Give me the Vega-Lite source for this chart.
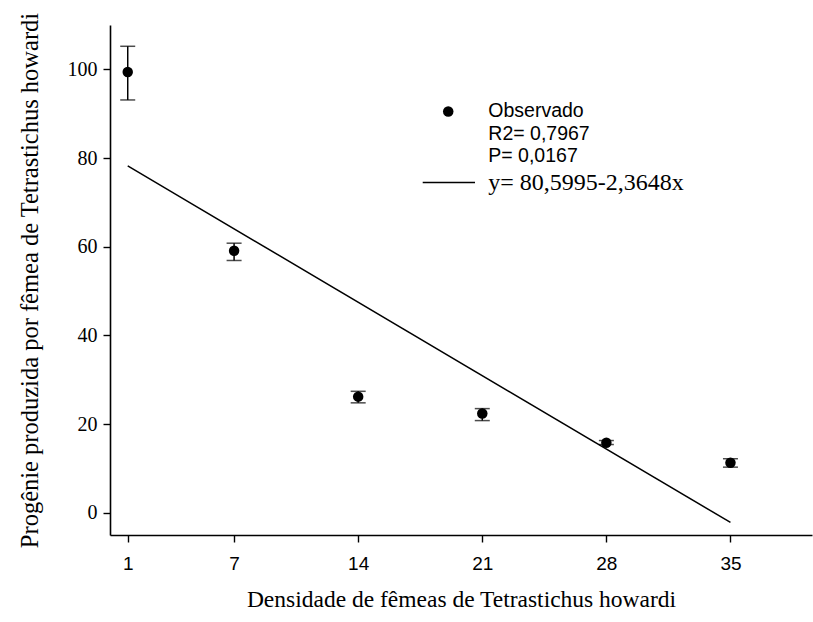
{
  "$schema": "https://vega.github.io/schema/vega-lite/v6.json",
  "autosize": "none",
  "width": 702,
  "height": 510,
  "padding": {"left": 110, "top": 25, "right": 1, "bottom": 87},
  "background": "white",
  "config": {
    "view": {"stroke": null},
    "axis": {"grid": false, "domainColor": "black", "domainWidth": 1.6, "tickColor": "black", "tickWidth": 1.4, "tickSize": 7, "labelColor": "black", "titleColor": "black", "titleFontWeight": "normal", "titleFont": "Liberation Serif", "titleFontSize": 23.5}
  },
  "data": {
    "values": [
      {"densidade": 1, "progenie": 99.4, "inferior": 93.1, "superior": 105.2},
      {"densidade": 7, "progenie": 59.1, "inferior": 56.9, "superior": 60.8},
      {"densidade": 14, "progenie": 26.2, "inferior": 24.8, "superior": 27.4},
      {"densidade": 21, "progenie": 22.4, "inferior": 20.8, "superior": 23.5},
      {"densidade": 28, "progenie": 15.8, "inferior": 15.4, "superior": 16.3},
      {"densidade": 35, "progenie": 11.3, "inferior": 10.3, "superior": 12.2}
    ]
  },
  "layer": [
    {
      "mark": {"type": "rule", "color": "black", "strokeWidth": 1.5},
      "encoding": {
        "x": {"field": "densidade", "type": "quantitative", "scale": {"domain": [0, 39.6], "nice": false, "zero": false},
          "axis": {"values": [1, 7, 14, 21, 28, 35], "labelFont": "Liberation Sans", "labelFontSize": 19, "labelPadding": 12, "titlePadding": 14, "title": "Densidade de fêmeas de Tetrastichus howardi"}},
        "y": {"field": "inferior", "type": "quantitative", "scale": {"domain": [-5, 110], "nice": false, "zero": false},
          "axis": {"values": [0, 20, 40, 60, 80, 100], "labelFont": "Liberation Serif", "labelFontSize": 20, "labelPadding": 6, "titlePadding": 25, "titleFontSize": 24.5, "title": "Progênie produzida por  fêmea de Tetrastichus howardi"}},
        "y2": {"field": "superior"}
      }
    },
    {
      "mark": {"type": "tick", "orient": "horizontal", "color": "black", "size": 15, "thickness": 1.5},
      "encoding": {
        "x": {"field": "densidade", "type": "quantitative"},
        "y": {"field": "inferior", "type": "quantitative"}
      }
    },
    {
      "mark": {"type": "tick", "orient": "horizontal", "color": "black", "size": 15, "thickness": 1.5},
      "encoding": {
        "x": {"field": "densidade", "type": "quantitative"},
        "y": {"field": "superior", "type": "quantitative"}
      }
    },
    {
      "mark": {"type": "point", "shape": "circle", "filled": true, "color": "black", "opacity": 1, "size": 110},
      "encoding": {
        "x": {"field": "densidade", "type": "quantitative"},
        "y": {"field": "progenie", "type": "quantitative"}
      }
    },
    {
      "data": {"values": [{"densidade": 1, "ajuste": 78.2347}, {"densidade": 35, "ajuste": -2.1685}]},
      "mark": {"type": "line", "color": "black", "strokeWidth": 1.5},
      "encoding": {
        "x": {"field": "densidade", "type": "quantitative"},
        "y": {"field": "ajuste", "type": "quantitative"}
      }
    },
    {
      "data": {"values": [{"rotulo": "Observado"}]},
      "layer": [
        {
          "mark": {"type": "point", "shape": "circle", "filled": true, "color": "black", "opacity": 1, "size": 110},
          "encoding": {"x": {"datum": 19.08}, "y": {"datum": 90.5}}
        },
        {
          "mark": {"type": "text", "text": "Observado", "font": "Liberation Sans", "fontSize": 19.5, "align": "left", "baseline": "middle", "fill": "black"},
          "encoding": {"x": {"datum": 21.34}, "y": {"datum": 90.5}}
        },
        {
          "mark": {"type": "text", "text": "R2= 0,7967", "font": "Liberation Sans", "fontSize": 19.5, "align": "left", "baseline": "middle", "fill": "black"},
          "encoding": {"x": {"datum": 21.34}, "y": {"datum": 85.5}}
        },
        {
          "mark": {"type": "text", "text": "P= 0,0167", "font": "Liberation Sans", "fontSize": 19.5, "align": "left", "baseline": "middle", "fill": "black"},
          "encoding": {"x": {"datum": 21.34}, "y": {"datum": 80.5}}
        },
        {
          "mark": {"type": "rule", "color": "black", "strokeWidth": 1.5},
          "encoding": {"x": {"datum": 17.64}, "x2": {"datum": 20.59}, "y": {"datum": 74.5}}
        },
        {
          "mark": {"type": "text", "text": "y= 80,5995-2,3648x", "font": "Liberation Serif", "fontSize": 24, "align": "left", "baseline": "middle", "fill": "black"},
          "encoding": {"x": {"datum": 21.34}, "y": {"datum": 74.4}}
        }
      ]
    }
  ]
}
